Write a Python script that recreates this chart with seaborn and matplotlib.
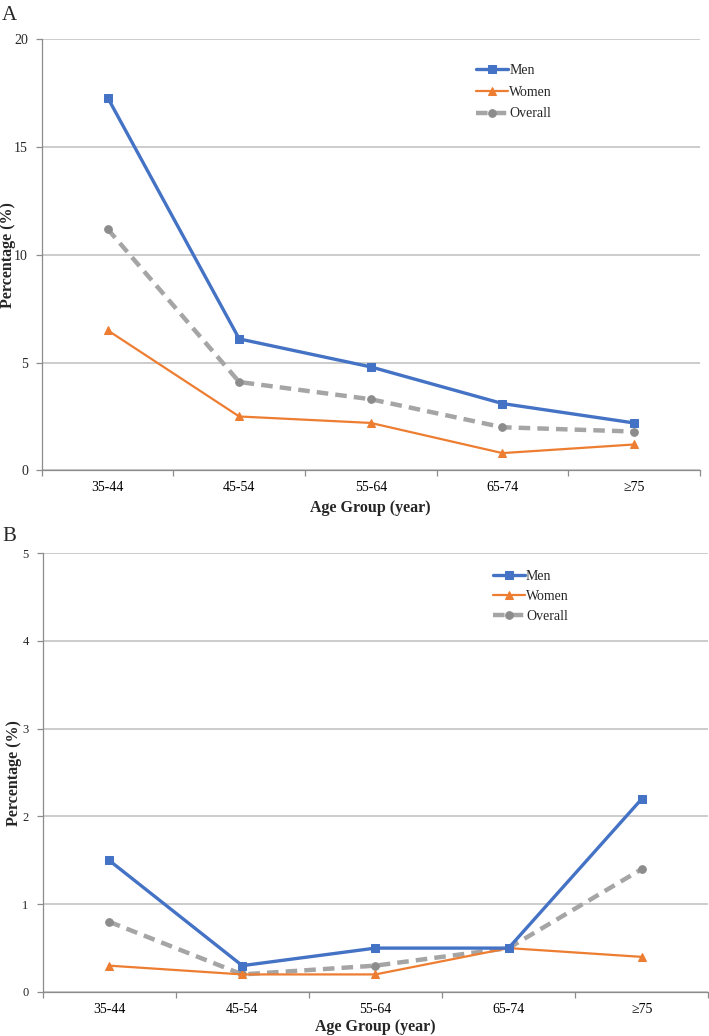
import numpy as np
import pandas as pd
import seaborn as sns
import matplotlib.pyplot as plt
from matplotlib.ticker import FixedLocator

# Age groups on the x axis
age_groups = ['35-44', '45-54', '55-64', '65-74', '≥75']

# Panel A values (%)
men_a = [17.3, 6.1, 4.8, 3.1, 2.2]
women_a = [6.5, 2.5, 2.2, 0.8, 1.2]
overall_a = [11.2, 4.1, 3.3, 2.0, 1.8]

# Panel B values (%)
men_b = [1.5, 0.3, 0.5, 0.5, 2.2]
women_b = [0.3, 0.2, 0.2, 0.5, 0.4]
overall_b = [0.8, 0.2, 0.3, 0.5, 1.4]

sns.set_theme(style='white')
plt.rcParams['font.family'] = ['Liberation Serif', 'DejaVu Serif']

BLUE = '#4472C4'
ORANGE = '#ED7D31'
GRAY = '#A5A5A5'
GRID = '#BFBFBF'

fig = plt.figure(figsize=(7.09, 10.36), dpi=100)
ax_a = fig.add_axes([0.059, 0.546, 0.928, 0.416])
ax_b = fig.add_axes([0.060, 0.0425, 0.939, 0.4235])


def draw_panel(ax, men, women, overall, ymax, ystep, ytick_size, legend_pos,
               legend_space, ylab_x, xlab_pad):
    df = pd.DataFrame({'age': age_groups, 'Men': men, 'Women': women, 'Overall': overall})
    # overall drawn first so the coloured lines sit on top
    sns.lineplot(data=df, x='age', y='Overall', ax=ax, color=GRAY, lw=3.2,
                 linestyle=(0, (2.6, 1.6)), marker='o', markersize=5.5,
                 markerfacecolor='#8C8C8C', markeredgecolor='#8C8C8C',
                 sort=False, label='Overall', zorder=3)
    sns.lineplot(data=df, x='age', y='Women', ax=ax, color=ORANGE, lw=1.6,
                 marker='^', markersize=6, markeredgecolor=ORANGE,
                 sort=False, label='Women', zorder=4)
    sns.lineplot(data=df, x='age', y='Men', ax=ax, color=BLUE, lw=2.4,
                 marker='s', markersize=6, markeredgecolor=BLUE,
                 sort=False, label='Men', zorder=5)

    ax.set_xlim(-0.5, len(age_groups) - 0.5)
    ax.set_ylim(0, ymax)
    ax.set_yticks(np.arange(0, ymax + ystep / 2, ystep))
    ax.yaxis.grid(True, color=GRID, lw=1.1)
    ax.set_axisbelow(True)

    ax.xaxis.set_minor_locator(FixedLocator(np.arange(-0.5, len(age_groups), 1.0)))
    ax.tick_params(axis='x', which='major', length=0, labelsize=10, pad=8, colors='black')
    ax.tick_params(axis='x', which='minor', length=4, width=0.9, color='#8C8C8C', bottom=True)
    ax.tick_params(axis='y', length=4, width=0.9, color='#8C8C8C', labelsize=ytick_size,
                   left=True, pad=6)

    for side in ['top', 'right']:
        ax.spines[side].set_visible(False)
    for side in ['left', 'bottom']:
        ax.spines[side].set_color('#8C8C8C')
        ax.spines[side].set_linewidth(0.9)

    ax.set_xlabel('Age Group (year)', fontsize=11.5, fontweight='bold', labelpad=xlab_pad)
    ax.set_ylabel('Percentage (%)', fontsize=11.5, fontweight='bold')
    ax.yaxis.set_label_coords(ylab_x, 0.5)

    handles, labels = ax.get_legend_handles_labels()
    order = [labels.index(n) for n in ['Men', 'Women', 'Overall']]
    ax.legend([handles[i] for i in order], [labels[i] for i in order],
              loc='upper left', bbox_to_anchor=legend_pos, frameon=False,
              fontsize=10, handlelength=2.3, handletextpad=0.1,
              labelspacing=legend_space, borderaxespad=0, borderpad=0)


draw_panel(ax_a, men_a, women_a, overall_a, 20, 5, 10, (0.66, 0.943), 0.63, -0.040, 4)
draw_panel(ax_b, men_b, women_b, overall_b, 5, 1, 9, (0.676, 0.962), 0.5, -0.031, 2)

fig.text(0.003, 0.9855, 'A', fontsize=15, va='center', ha='left')
fig.text(0.003, 0.4817, 'B', fontsize=15, va='center', ha='left')

fig.savefig('out.png', dpi=100)
